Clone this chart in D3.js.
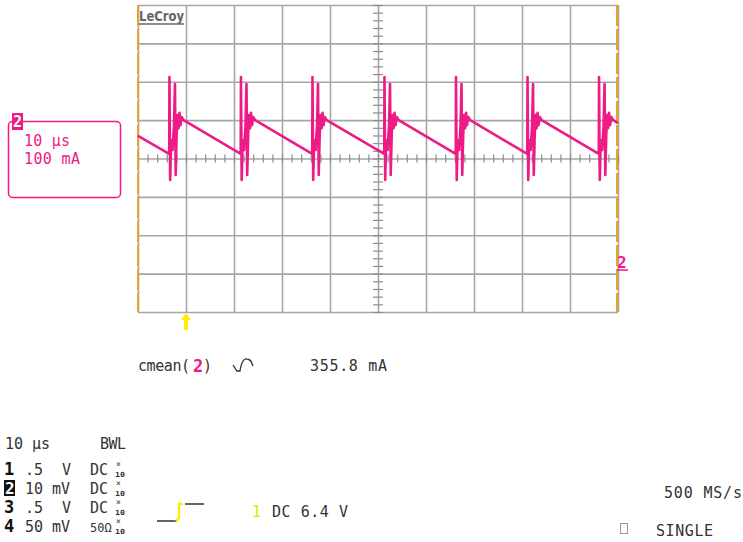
<!DOCTYPE html>
<html lang="en">
<head>
<meta charset="UTF-8">
<title>LeCroy capture</title>
<style>
  body { margin: 0; background: #fff; }
  svg text { font-family: "DejaVu Sans Mono", monospace; fill: #333; }
  .grid line { stroke: #a6a6a6; stroke-width: 1.6; }
  .grid path { display: none; }
  .minor line { stroke: #8c8c8c; stroke-width: 1.2; }
  .minor path { display: none; }
  .trace { fill: none; stroke: #ee1a85; stroke-width: 2.6; stroke-linejoin: round; }
  .pink { fill: #ee1a85 !important; }
</style>
</head>
<body>
<svg id="scope" width="743" height="542"></svg>
<script src="https://d3js.org/d3.v7.min.js"></script>
<script>
// time in µs (10 µs/div), current in mA (100 mA/div)
const timeDivs = [-10, 0, 10, 20, 30, 40, 50, 60, 70, 80, 90];
const currentDivs = [-110, -10, 90, 190, 290, 390, 490, 590, 690];

// switching instants
const switchTimes = [-3.5, 11.4, 26.3, 41.3, 56.2, 71.1, 86.0];
// one switching event: [µs after switch, mA]
const cycleShape = [
  [0, 302], [0.05, 502], [0.2, 234], [0.4, 338], [0.7, 312], [1.0, 377],
  [1.2, 484], [1.35, 247], [1.55, 351], [1.75, 403], [1.95, 369],
  [2.15, 409], [2.35, 377], [2.6, 398], [3.0, 390]
];
const traceStart = [-10, 349];
const traceEnd = [90, 382];

const channelRows = [
  { ch: "1", volts: ".5", unit: "V", coupling: "DC" },
  { ch: "2", volts: "10", unit: "mV", coupling: "DC" },
  { ch: "3", volts: ".5", unit: "V", coupling: "DC" },
  { ch: "4", volts: "50", unit: "mV", coupling: "50Ω" }
];

const svg = d3.select("#scope");
const x = d3.scaleLinear().domain([-10, 90]).range([138, 618]);
const y = d3.scaleLinear().domain([-110, 690]).range([312, 5]);

// graticule
svg.append("g").attr("class", "grid")
  .attr("transform", "translate(0,312)")
  .call(d3.axisBottom(x).tickValues(timeDivs).tickSize(307).tickSizeOuter(0).tickFormat(""))
  .selectAll(".tick line").attr("y1", -307).attr("y2", 0);
svg.append("g").attr("class", "grid")
  .attr("transform", "translate(138,0)")
  .call(d3.axisRight(y).tickValues(currentDivs).tickSize(480).tickSizeOuter(0).tickFormat(""));

// centre axes with minor ticks
svg.append("g").attr("class", "minor")
  .attr("transform", `translate(0,${y(290)})`)
  .call(d3.axisBottom(x).tickValues(d3.range(-10, 90.01, 2)).tickSize(0).tickFormat(""))
  .selectAll(".tick line").attr("y1", -4).attr("y2", 4);
svg.append("g").attr("class", "minor")
  .attr("transform", `translate(${x(40)},0)`)
  .call(d3.axisRight(y).tickValues(d3.range(-110, 690.01, 20)).tickSize(0).tickFormat(""))
  .selectAll(".tick line").attr("x1", -5).attr("x2", 5);

// orange edge markers
[x(-10), x(90) - 1].forEach(px => {
  svg.append("line").attr("x1", px).attr("x2", px).attr("y1", 5).attr("y2", 312)
    .attr("stroke", "#eba12e").attr("stroke-width", 2).attr("stroke-dasharray", "21 3");
});

// logo
svg.append("text").attr("x", 139).attr("y", 21)
  .attr("textLength", 45).attr("lengthAdjust", "spacingAndGlyphs")
  .style("font-family", "DejaVu Sans").style("font-weight", "bold").style("font-size", "14px")
  .style("fill", "#666").text("LeCroy");
svg.append("line").attr("x1", 139).attr("x2", 184).attr("y1", 24).attr("y2", 24)
  .attr("stroke", "#666").attr("stroke-width", 1.5);

// trace
const tracePts = [traceStart];
switchTimes.forEach(t0 => cycleShape.forEach(([dt, v]) => tracePts.push([t0 + dt, v])));
tracePts.push(traceEnd);
svg.append("path").attr("class", "trace")
  .attr("d", d3.line().x(d => x(d[0])).y(d => y(d[1]))(tracePts.filter(d => d[0] <= 90)));

// trigger arrow
svg.append("path")
  .attr("d", `M${x(0)},313 l-5,7 h3 v10 h4 v-10 h3 z`)
  .attr("fill", "#ffee00");

// channel 2 ground marker
svg.append("text").attr("class", "pink").attr("x", 617).attr("y", 268)
  .style("font-size", "16px").style("font-weight", "bold").text("2");
svg.append("line").attr("x1", 617).attr("x2", 628).attr("y1", 270).attr("y2", 270)
  .attr("stroke", "#ee1a85").attr("stroke-width", 1.5);

// channel 2 info box
svg.append("rect").attr("x", 8.5).attr("y", 121.5).attr("width", 112).attr("height", 76)
  .attr("rx", 4).attr("fill", "none").attr("stroke", "#ee1a85").attr("stroke-width", 1.5);
svg.append("rect").attr("x", 12).attr("y", 113).attr("width", 11).attr("height", 17).attr("fill", "#ee1a85");
svg.append("text").attr("x", 13).attr("y", 127).style("font-size", "15px").style("font-weight", "bold")
  .style("fill", "#fff").text("2");
svg.append("text").attr("class", "pink").attr("x", 24).attr("y", 146)
  .attr("textLength", 46).style("font-size", "15px").text("10 µs");
svg.append("text").attr("class", "pink").attr("x", 24).attr("y", 164)
  .attr("textLength", 56).style("font-size", "15px").text("100 mA");

// measurement row
svg.append("text").attr("x", 138).attr("y", 371).attr("textLength", 52).style("font-size", "15px").text("cmean(");
svg.append("text").attr("class", "pink").attr("x", 193).attr("y", 372).style("font-size", "17px")
  .style("font-weight", "bold").text("2");
svg.append("text").attr("x", 203).attr("y", 371).style("font-size", "15px").text(")");
svg.append("path").attr("d", "M233,365 L237,371 L240,371 Q242,358 247,359 Q251,359 253,366")
  .attr("fill", "none").attr("stroke", "#333").attr("stroke-width", 1.3);
svg.append("text").attr("x", 310).attr("y", 371).attr("textLength", 77).style("font-size", "15px").text("355.8 mA");

// timebase / channel settings
svg.append("text").attr("x", 5).attr("y", 449).attr("textLength", 45).style("font-size", "15px").text("10 µs");
svg.append("text").attr("x", 100).attr("y", 449).attr("textLength", 26).style("font-size", "15px").text("BWL");

const rowY = [475, 494, 513, 532];
channelRows.forEach((r, i) => {
  const by = rowY[i];
  if (r.ch === "2") {
    svg.append("rect").attr("x", 4).attr("y", by - 14).attr("width", 11).attr("height", 16).attr("fill", "#111");
    svg.append("text").attr("x", 5).attr("y", by).style("font-size", "16px").style("font-weight", "bold")
      .style("fill", "#fff").text(r.ch);
  } else {
    svg.append("text").attr("x", 4).attr("y", by).style("font-size", "17px").style("font-weight", "bold")
      .style("fill", "#111").text(r.ch);
  }
  svg.append("text").attr("x", 25).attr("y", by).style("font-size", "15px").text(r.volts);
  const ux = r.unit === "V" ? 62 : 52;
  svg.append("text").attr("x", ux).attr("y", by).style("font-size", "15px").text(r.unit);
  svg.append("text").attr("x", 90).attr("y", by)
    .style("font-size", r.coupling === "DC" ? "15px" : "12px").text(r.coupling);
  svg.append("text").attr("x", 116).attr("y", by - 8).style("font-size", "8px").text("×");
  svg.append("text").attr("x", 115).attr("y", by + 2).attr("textLength", 10)
    .attr("lengthAdjust", "spacingAndGlyphs").style("font-size", "7px").style("font-weight", "bold").text("10");
});

// trigger settings
svg.append("path").attr("d", "M157,521 H177 M185,504 H204").attr("stroke", "#333").attr("stroke-width", 1.5);
svg.append("path").attr("d", "M176,521 L179,518 V504 H183").attr("fill", "none")
  .attr("stroke", "#ffee00").attr("stroke-width", 2.5);
svg.append("text").attr("x", 252).attr("y", 517).style("font-size", "15px").style("fill", "#e8e000").text("1");
svg.append("text").attr("x", 272).attr("y", 517).attr("textLength", 76).style("font-size", "15px").text("DC 6.4 V");

// acquisition
svg.append("text").attr("x", 664).attr("y", 498).attr("textLength", 78).style("font-size", "15px").text("500 MS/s");
svg.append("rect").attr("x", 620.5).attr("y", 523.5).attr("width", 7).attr("height", 10)
  .attr("fill", "none").attr("stroke", "#999").attr("stroke-width", 1);
svg.append("text").attr("x", 656).attr("y", 536).attr("textLength", 57).style("font-size", "15px").text("SINGLE");
</script>
</body>
</html>
